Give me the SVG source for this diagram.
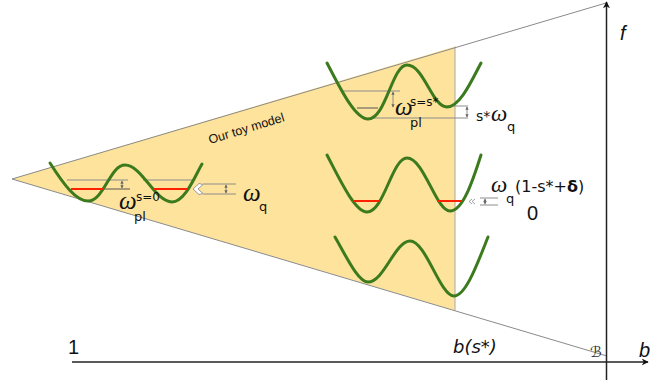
<svg xmlns="http://www.w3.org/2000/svg" width="650" height="390" viewBox="0 0 650 390">
<defs>
<style>
.wave{fill:none;stroke:#3c7a1e;stroke-width:3;stroke-linecap:round}
.red{stroke:#ff2200;stroke-width:2}
.gl{stroke:#8c8c8c;stroke-width:1;fill:none}
.dl{stroke:#555;stroke-width:1;fill:none}
.dim{stroke:#777;stroke-width:0.8;marker-start:url(#sa);marker-end:url(#sa)}
.om{font-family:"Liberation Serif",serif;font-style:italic;fill:#111}
.sans{font-family:"DejaVu Sans","Liberation Sans",sans-serif;fill:#111}
.lib{font-family:"Liberation Sans",Arial,sans-serif;fill:#111}
.ax{stroke:#222;stroke-width:1.5;fill:none}
</style>
<marker id="sa" viewBox="0 0 6 6" refX="5" refY="3" markerWidth="4" markerHeight="4" orient="auto-start-reverse"><path d="M0,0 L6,3 L0,6 z" fill="#666"/></marker>
<marker id="ah" viewBox="0 0 10 10" refX="9" refY="5" markerWidth="7" markerHeight="7" markerUnits="userSpaceOnUse" orient="auto"><path d="M0,0 L10,5 L0,10 L3,5 z" fill="#111"/></marker>
</defs>
<rect width="650" height="390" fill="#fff"/>

<g id="region">
<polygon points="12,179 455,46.5 455,310.5" fill="#fee39c"/>
<line x1="455" y1="46.5" x2="455" y2="310.5" stroke="#a8a8a8" stroke-width="1"/>
<line x1="12" y1="179" x2="606" y2="3" stroke="#8a8a8a" stroke-width="1"/>
<line x1="12" y1="179" x2="607" y2="356" stroke="#8a8a8a" stroke-width="1"/>
<text class="lib" font-size="12.5" transform="translate(210,144) rotate(-17)">Our toy model</text>
</g>

<g id="connectors">
<line class="ax" x1="72" y1="362" x2="648" y2="362" marker-end="url(#ah)"/>
<line class="ax" x1="606.5" y1="380" x2="606.5" y2="2" marker-end="url(#ah)"/>
</g>

<g id="well-left">
<line class="gl" x1="67" y1="180" x2="128" y2="180"/>
<line class="gl" x1="143" y1="180" x2="192" y2="180"/>
<line class="dl" x1="103" y1="189" x2="130" y2="189"/>
<line class="dim" x1="122" y1="181" x2="122" y2="188"/>
<path class="wave" d="M50,163 C64,185 76,201 88,201 C104,201 110,165 125,165 C142,165 155,202 172,202 C185,202 195,176 202,164"/>
<line class="red" x1="71" y1="189" x2="104" y2="189"/>
<line class="red" x1="153" y1="189" x2="187" y2="189"/>
<path d="M193,189 L199,183.5 L203,184.5 L198,189 L203,193.5 L199,194.5 Z" fill="#fff" stroke="#999" stroke-width="1"/>
<line class="gl" x1="203" y1="184" x2="236" y2="184"/>
<line class="gl" x1="203" y1="194" x2="236" y2="194"/>
<line class="dim" x1="226" y1="185" x2="226" y2="193"/>
<text class="om" x="119" y="209" font-size="25">ω</text>
<text class="sans" x="136" y="201" font-size="12">s=0</text>
<text class="sans" x="134" y="221" font-size="13">pl</text>
<text class="om" x="243" y="201" font-size="25">ω</text>
<text class="sans" x="259" y="211" font-size="13">q</text>
</g>

<g id="well-upper">
<line class="gl" x1="343" y1="91" x2="400" y2="91"/>
<line class="dl" x1="357" y1="108" x2="378" y2="108"/>
<line class="gl" x1="372" y1="118" x2="468" y2="118"/>
<line class="gl" x1="447" y1="106" x2="468" y2="106"/>
<line class="dim" x1="393" y1="92" x2="393" y2="107"/>
<line class="dim" x1="467" y1="107" x2="467" y2="117"/>
<path class="wave" d="M327,63 C340,88 355,119 368,119 C386,119 392,65 407,65 C424,65 432,107 447,107 C460,107 472,80 481,63"/>
<text class="om" x="395" y="115" font-size="25">ω</text>
<text class="sans" x="410" y="106" font-size="12">s=s*</text>
<text class="sans" x="410" y="127" font-size="13">pl</text>
<text class="sans" x="476" y="121" font-size="14">s*</text>
<text class="om" x="491" y="121" font-size="23">ω</text>
<text class="sans" x="507" y="131" font-size="13">q</text>
</g>

<g id="well-middle">
<path class="wave" d="M327,155 C340,180 355,212 367,212 C384,212 392,158 407,158 C424,158 436,211 450,211 C463,211 473,180 481,155"/>
<line class="red" x1="353" y1="201" x2="379" y2="201"/>
<line class="red" x1="437" y1="201" x2="462" y2="201"/>
<path d="M472,199 L469,201.5 L472,204 M475,199 L472,201.5 L475,204" fill="none" stroke="#999" stroke-width="0.9"/>
<line class="gl" x1="480" y1="198" x2="498" y2="198"/>
<line class="gl" x1="480" y1="205" x2="498" y2="205"/>
<line class="dim" x1="485" y1="199" x2="485" y2="204"/>
<text class="om" x="491" y="192" font-size="23">ω</text>
<text class="sans" x="506" y="203" font-size="13">q</text>
<text class="sans" x="515" y="192" font-size="16">(1-s*+<tspan font-weight="bold">δ</tspan>)</text>
<text class="lib" x="527" y="220" font-size="20">0</text>
</g>

<g id="well-lower">
<path class="wave" d="M335,237 C346,256 358,282 368,282 C384,282 395,241 410,241 C426,241 440,296 454,296 C466,296 478,262 488,237"/>
</g>

<g id="labels">
<text class="lib" x="68" y="354" font-size="20">1</text>
<text class="sans" x="453" y="353" font-size="18" font-style="italic">b(s*)</text>
<text x="590" y="357" font-size="15" font-style="italic" style="font-family:'DejaVu Sans',sans-serif" fill="#333">ℬ</text>
<text class="lib" x="620" y="40" font-size="20" font-style="italic">f</text>
<text class="lib" x="639" y="357" font-size="20" font-style="italic">b</text>
</g>
</svg>
